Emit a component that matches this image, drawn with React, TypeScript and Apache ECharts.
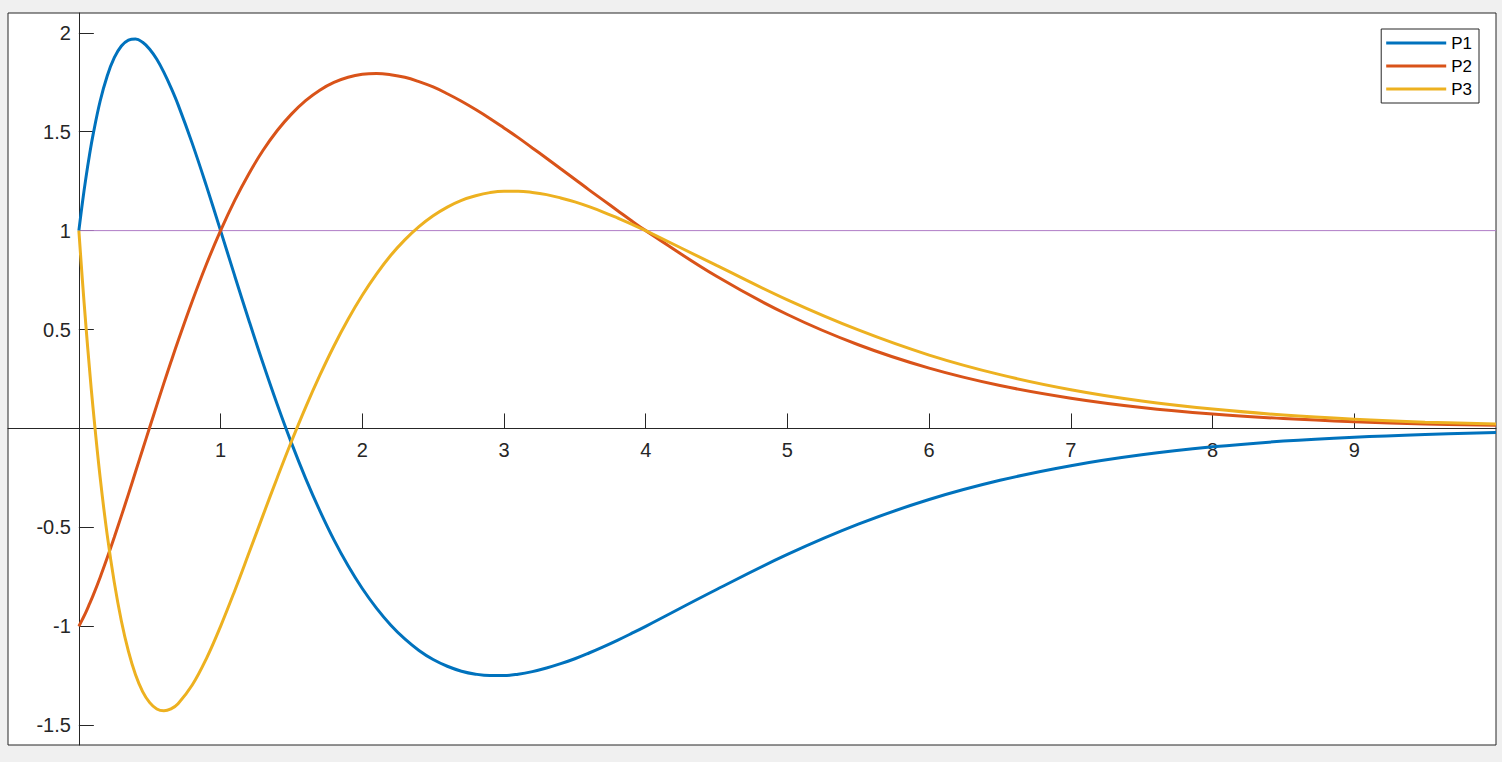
import React, { useEffect, useRef } from "react";
import * as echarts from "echarts";

const xs = [0, 0.025, 0.05, 0.075, 0.1, 0.15, 0.2, 0.25, 0.3, 0.35, 0.4, 0.45, 0.5, 0.55, 0.6, 0.65, 0.7, 0.8, 0.9, 1.0, 1.1, 1.2, 1.3, 1.4, 1.5, 1.6, 1.7, 1.8, 1.9, 2.0, 2.1, 2.2, 2.3, 2.4, 2.5, 2.6, 2.7, 2.8, 2.9, 3.0, 3.1, 3.2, 3.3, 3.4, 3.5, 3.6, 3.7, 3.8, 3.9, 4.0, 4.5, 5.0, 5.5, 6.0, 6.5, 7.0, 7.5, 8.0, 8.5, 9.0, 9.5, 10];

const p1 = [1, 1.141, 1.268, 1.382, 1.484, 1.654, 1.782, 1.874, 1.933, 1.963, 1.969, 1.952, 1.917, 1.866, 1.8, 1.723, 1.637, 1.441, 1.226, 1.0, 0.771, 0.546, 0.328, 0.121, -0.073, -0.252, -0.415, -0.563, -0.694, -0.809, -0.908, -0.993, -1.064, -1.122, -1.168, -1.202, -1.227, -1.242, -1.249, -1.249, -1.242, -1.229, -1.211, -1.189, -1.164, -1.135, -1.104, -1.071, -1.036, -1.0, -0.814, -0.637, -0.484, -0.359, -0.262, -0.188, -0.133, -0.093, -0.064, -0.044, -0.03, -0.02];

const p2 = [-1, -0.965, -0.928, -0.887, -0.845, -0.753, -0.654, -0.55, -0.442, -0.332, -0.219, -0.106, 0.006, 0.118, 0.229, 0.337, 0.442, 0.643, 0.83, 1.0, 1.153, 1.288, 1.406, 1.506, 1.589, 1.657, 1.71, 1.749, 1.775, 1.79, 1.794, 1.788, 1.775, 1.753, 1.726, 1.692, 1.654, 1.612, 1.567, 1.519, 1.47, 1.418, 1.366, 1.313, 1.26, 1.206, 1.154, 1.102, 1.05, 1.0, 0.769, 0.576, 0.423, 0.305, 0.217, 0.153, 0.106, 0.073, 0.05, 0.034, 0.023, 0.016];

const p3 = [1, 0.749, 0.517, 0.302, 0.104, -0.246, -0.538, -0.778, -0.973, -1.127, -1.245, -1.33, -1.386, -1.418, -1.427, -1.417, -1.391, -1.297, -1.163, -1.0, -0.82, -0.63, -0.438, -0.249, -0.066, 0.107, 0.268, 0.417, 0.552, 0.673, 0.78, 0.874, 0.953, 1.02, 1.075, 1.119, 1.153, 1.176, 1.192, 1.199, 1.199, 1.193, 1.182, 1.165, 1.145, 1.121, 1.094, 1.064, 1.033, 1.0, 0.824, 0.65, 0.498, 0.371, 0.272, 0.196, 0.139, 0.098, 0.068, 0.047, 0.032, 0.022];

const refX = [0, 10];
const refY = [1, 1];

const xTicks = [1, 2, 3, 4, 5, 6, 7, 8, 9];
const yTicks = [-1.5, -1, -0.5, 0.5, 1, 1.5, 2];

const seriesNames = ["P1", "P2", "P3"];
const seriesColors = ["#0072BD", "#D95319", "#EDB120"];

const X_MIN = -0.5;
const X_MAX = 10;
const Y_MIN = -1.6;
const Y_MAX = 2.1;

const AX = "#262626";
const FONT = "'Liberation Sans', Arial, Helvetica, sans-serif";

const GRID = { left: 8, top: 13, right: 6, bottom: 17 };
const W = 1502;
const H = 762;

export default function App() {
  const ref = useRef<HTMLDivElement>(null);
  useEffect(() => {
    const chart = echarts.init(ref.current!, null, { renderer: "svg" });
    const all = [p1, p2, p3];
    const gw = W - GRID.left - GRID.right;
    const gh = H - GRID.top - GRID.bottom;
    // place axis lines at the zero of the other axis (MATLAB "origin" axis location)
    const xOffset = -((0 - Y_MIN) / (Y_MAX - Y_MIN)) * gh;
    const yOffset = -((0 - X_MIN) / (X_MAX - X_MIN)) * gw;
    chart.setOption({
      animation: false,
      backgroundColor: "#f0f0f0",
      textStyle: { fontFamily: FONT },
      grid: {
        ...GRID,
        containLabel: false,
        outerBoundsMode: "none",
        show: true,
        backgroundColor: "#ffffff",
        borderColor: AX,
        borderWidth: 1,
      },
      legend: {
        data: seriesNames,
        orient: "vertical",
        right: 23,
        top: 29,
        icon: "rect",
        itemWidth: 60,
        itemHeight: 3,
        itemGap: 3,
        padding: [4, 7, 4, 5],
        backgroundColor: "#ffffff",
        borderColor: AX,
        borderWidth: 1,
        borderRadius: 0,
        textStyle: { fontSize: 17, lineHeight: 20, color: "#000", fontFamily: FONT },
      },
      xAxis: {
        type: "value",
        min: X_MIN,
        max: X_MAX,
        position: "bottom",
        offset: xOffset,
        axisLine: { show: true, onZero: false, lineStyle: { color: AX, width: 1 } },
        axisTick: { show: true, inside: true, length: 15, customValues: xTicks, lineStyle: { color: AX } },
        axisLabel: { customValues: xTicks, fontSize: 20, color: AX, margin: 12, fontFamily: FONT },
        splitLine: { show: false },
      },
      yAxis: {
        type: "value",
        min: Y_MIN,
        max: Y_MAX,
        position: "left",
        offset: yOffset,
        axisLine: { show: true, onZero: false, lineStyle: { color: AX, width: 1 } },
        axisTick: { show: true, inside: true, length: 15, customValues: yTicks, lineStyle: { color: AX } },
        axisLabel: { customValues: yTicks, fontSize: 20, color: AX, margin: 8, fontFamily: FONT },
        splitLine: { show: false },
      },
      series: [
        {
          type: "line",
          name: "ref",
          data: refX.map((x, i) => [x, refY[i]]),
          symbol: "none",
          silent: true,
          lineStyle: { color: "#b07cc6", width: 1 },
          z: 1,
        },
        ...seriesNames.map((n, k) => ({
          type: "line",
          name: n,
          data: xs.map((x, i) => [x, all[k][i]]),
          symbol: "none",
          smooth: 0.4,
          color: seriesColors[k],
          lineStyle: { color: seriesColors[k], width: 3 },
          z: 2 + k,
        })),
      ],
    });
    return () => chart.dispose();
  }, []);
  return (
    <div style={{ position: "fixed", left: 0, top: 0, width: W, height: H, background: "#f0f0f0" }}>
      <div ref={ref} style={{ width: W, height: H }} />
    </div>
  );
}
